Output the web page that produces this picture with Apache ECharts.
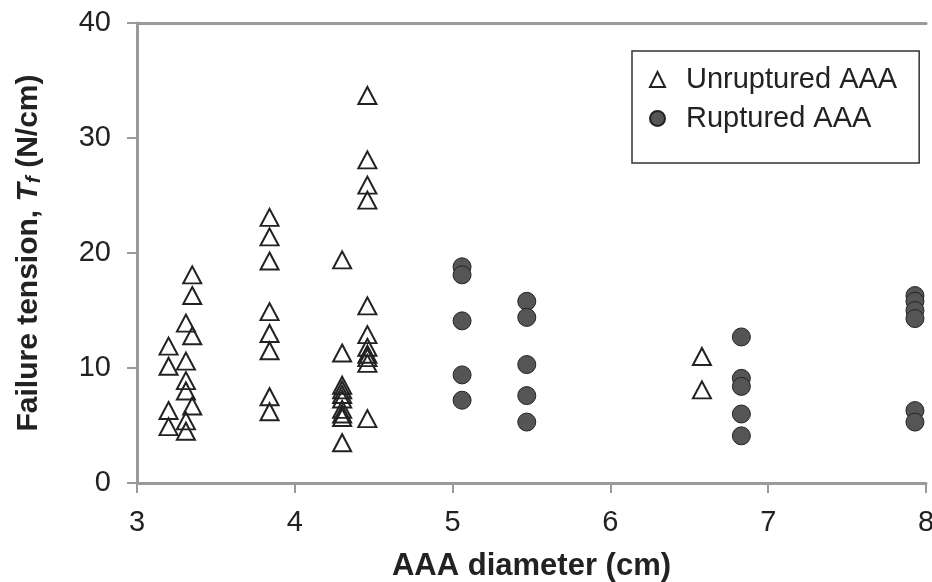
<!DOCTYPE html>
<html>
<head>
<meta charset="utf-8">
<script src="https://cdn.jsdelivr.net/npm/echarts@6/dist/echarts.min.js"></script>
<style>
  html, body { margin: 0; padding: 0; background: #fff; }
  #main { width: 932px; height: 582px; }
</style>
</head>
<body>
<div id="main"></div>
<script>
// AAA diameter (cm) and failure tension (N/cm)
const unrupturedDiameter = [
  3.2, 3.2, 3.2, 3.2,
  3.31, 3.31, 3.31, 3.31, 3.31, 3.31,
  3.35, 3.35, 3.35, 3.35,
  3.84, 3.84, 3.84, 3.84, 3.84, 3.84, 3.84, 3.84,
  4.3, 4.3, 4.3, 4.3, 4.3, 4.3, 4.3, 4.3, 4.3, 4.3,
  4.46, 4.46, 4.46, 4.46, 4.46, 4.46, 4.46, 4.46, 4.46, 4.46, 4.46,
  6.58, 6.58
]
const unrupturedTension = [
  11.9, 10.15, 6.3, 4.9,
  13.9, 10.6, 8.9, 8.0, 5.4, 4.5,
  18.1, 16.3, 12.8, 6.7,
  23.1, 21.4, 19.3, 14.9, 13.0, 11.5, 7.5, 6.2,
  19.4, 11.3, 8.5, 8.1, 7.7, 7.3, 6.4, 6.0, 5.7, 3.5,
  33.7, 28.1, 25.9, 24.6, 15.4, 12.9, 11.8, 11.2, 10.9, 10.4, 5.6,
  11.0, 8.1
]
const rupturedDiameter = [
  5.06, 5.06, 5.06, 5.06, 5.06,
  5.47, 5.47, 5.47, 5.47, 5.47,
  6.83, 6.83, 6.83, 6.83, 6.83,
  7.93, 7.93, 7.93, 7.93, 7.93, 7.93
]
const rupturedTension = [
  18.8, 18.1, 14.1, 9.4, 7.2,
  15.8, 14.4, 10.3, 7.6, 5.3,
  12.7, 9.1, 8.4, 6.0, 4.1,
  16.3, 15.8, 15.0, 14.3, 6.3, 5.3
]
const xTicks = { min: 3, max: 8, step: 1 }
const yTicks = { min: 0, max: 40, step: 10 }

const font = 'Liberation Sans, Arial, Helvetica, sans-serif'
const axisGray = '#9a9a9a'
const ink = '#222'

function zip(xs, ys) {
  return xs.map((x, i) => [x, ys[i]])
}

const chart = echarts.init(document.getElementById('main'))

const option = {
  animation: false,
  textStyle: { fontFamily: font },
  // fixed plot box, don't let v6 shrink it to fit labels
  grid: { left: 137, top: 23, right: 6, bottom: 99, outerBoundsMode: 'none', containLabel: false },
  legend: {
    orient: 'vertical',
    left: 632,
    top: 51,
    padding: [14, 22, 30, 17],
    borderColor: '#333',
    borderWidth: 1.5,
    itemGap: 10,
    itemWidth: 15,
    itemHeight: 15,
    textStyle: { fontSize: 29, color: ink, fontFamily: font, padding: [0, 0, 0, 16] },
    data: ['Unruptured AAA', 'Ruptured AAA']
  },
  xAxis: [
    {
      type: 'value',
      min: xTicks.min,
      max: xTicks.max,
      interval: xTicks.step,
      name: 'AAA diameter (cm)',
      nameLocation: 'middle',
      nameGap: 68,
      nameTextStyle: { fontSize: 31, fontWeight: 'bold', color: ink, fontFamily: font },
      axisLine: { lineStyle: { color: axisGray, width: 3 } },
      axisTick: { show: true, length: 10, lineStyle: { color: axisGray, width: 2 } },
      axisLabel: { fontSize: 29, color: ink, margin: 25, fontFamily: font },
      splitLine: { show: false }
    },
    {
      // top frame line only
      type: 'value',
      position: 'top',
      min: xTicks.min,
      max: xTicks.max,
      interval: xTicks.step,
      axisLine: { show: true, lineStyle: { color: axisGray, width: 3 } },
      axisTick: { show: false },
      axisLabel: { show: false },
      splitLine: { show: false }
    }
  ],
  yAxis: {
    type: 'value',
    min: yTicks.min,
    max: yTicks.max,
    interval: yTicks.step,
    name: '{b|Failure tension, }{i|T}{s|f}{b| (N/cm)}',
    nameLocation: 'middle',
    nameGap: 92,
    nameTextStyle: {
      fontFamily: font,
      rich: {
        b: { fontSize: 30, fontWeight: 'bold', color: ink, fontFamily: font },
        i: { fontSize: 30, fontWeight: 'bold', fontStyle: 'italic', color: ink, fontFamily: font },
        s: { fontSize: 21, fontWeight: 'bold', fontStyle: 'italic', color: ink, fontFamily: font, verticalAlign: 'bottom', padding: [12, 0, 0, 0] }
      }
    },
    axisLine: { show: true, lineStyle: { color: axisGray, width: 3 } },
    axisTick: { show: true, length: 10, lineStyle: { color: axisGray, width: 2 } },
    axisLabel: { fontSize: 29, color: ink, margin: 26, fontFamily: font },
    splitLine: { show: false }
  },
  series: [
    {
      name: 'Unruptured AAA',
      type: 'scatter',
      symbol: 'triangle',
      symbolSize: [18, 17],
      itemStyle: { color: 'rgba(255,255,255,0)', borderColor: ink, borderWidth: 2, opacity: 1 },
      data: zip(unrupturedDiameter, unrupturedTension)
    },
    {
      name: 'Ruptured AAA',
      type: 'scatter',
      symbol: 'circle',
      symbolSize: 18,
      itemStyle: { color: '#555', borderColor: ink, borderWidth: 1, opacity: 1 },
      data: zip(rupturedDiameter, rupturedTension)
    }
  ]
}

chart.setOption(option)
</script>
</body>
</html>
